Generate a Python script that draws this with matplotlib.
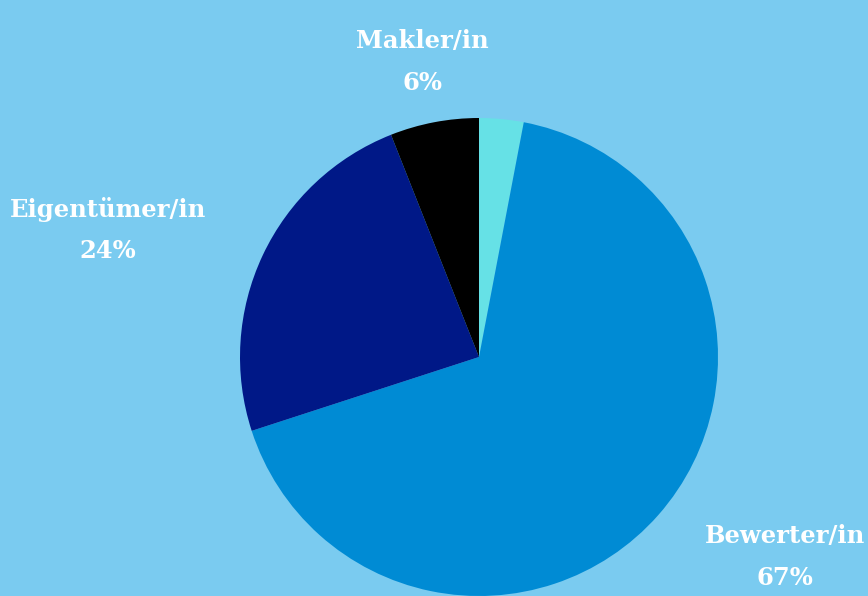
import matplotlib.pyplot as plt

# Slice data, clockwise from 12 o'clock
labels = ['', 'Bewerter/in', 'Eigentümer/in', 'Makler/in']
shares = [3, 67, 24, 6]
colors = ['#66e1e6', '#008bd4', '#001887', '#000000']

# label anchor points (pixels, y measured from bottom) for each labelled slice
label_pos = {'Makler/in': (422, 534), 'Eigentümer/in': (108, 366), 'Bewerter/in': (785, 39)}

bg = '#7acbf0'
fig = plt.figure(figsize=(8.68, 5.96), dpi=100, facecolor=bg)
ax = fig.add_axes([0, 0, 1, 1])
ax.set_facecolor(bg)

ax.pie(shares, colors=colors, startangle=90, counterclock=False,
       center=(479, 239), radius=239, frame=True,
       wedgeprops=dict(linewidth=0))

ax.set_xlim(0, 868)
ax.set_ylim(0, 596)
ax.set_aspect('equal')
ax.axis('off')

for name, val in zip(labels, shares):
    if not name:
        continue
    x, y = label_pos[name]
    ax.text(x, y, f'{name}\n{val}%', ha='center', va='center', color='white',
            fontsize=17.5, fontweight='bold', family='DejaVu Serif', linespacing=1.9)

fig.savefig('out.png', dpi=100, facecolor=bg)
